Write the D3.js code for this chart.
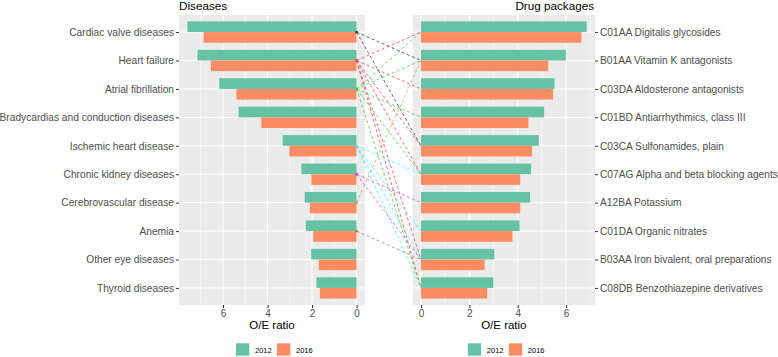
<!DOCTYPE html>
<html><head><meta charset="utf-8">
<script src="https://cdn.jsdelivr.net/npm/d3@7"></script>
<style>body{margin:0;background:#fff}svg{display:block;font-family:"Liberation Sans",Arial,sans-serif}</style>
</head><body><svg id="c" width="778" height="357"></svg>
<script>
const diseases = ["Cardiac valve diseases","Heart failure","Atrial fibrillation","Bradycardias and conduction diseases","Ischemic heart disease","Chronic kidney diseases","Cerebrovascular disease","Anemia","Other eye diseases","Thyroid diseases"];
const dis2012 = [7.6,7.15,6.17,5.3,3.32,2.48,2.33,2.28,2.04,1.8];
const dis2016 = [6.87,6.55,5.4,4.28,3.02,2.03,2.1,1.95,1.7,1.65];
const drugs = ["C01AA Digitalis glycosides","B01AA Vitamin K antagonists","C03DA Aldosterone antagonists","C01BD Antiarrhythmics, class III","C03CA Sulfonamides, plain","C07AG Alpha and beta blocking agents","A12BA Potassium","C01DA Organic nitrates","B03AA Iron bivalent, oral preparations","C08DB Benzothiazepine derivatives"];
const drug2012 = [6.85,5.99,5.52,5.09,4.87,4.55,4.51,4.07,3.03,2.99];
const drug2016 = [6.63,5.26,5.46,4.44,4.59,4.10,4.10,3.78,2.63,2.74];
const years = ["2012","2016"];
const yearColors = ["#66C2A5","#FC8D62"];
const xTicks = [0,2,4,6];
const linkFrom = ["Cardiac valve diseases","Cardiac valve diseases",
  "Heart failure","Heart failure","Heart failure","Heart failure","Heart failure","Heart failure",
  "Atrial fibrillation","Atrial fibrillation","Atrial fibrillation","Atrial fibrillation","Atrial fibrillation",
  "Ischemic heart disease","Ischemic heart disease","Ischemic heart disease","Ischemic heart disease",
  "Chronic kidney diseases","Chronic kidney diseases","Cerebrovascular disease","Anemia"];
const linkTo = ["B01AA Vitamin K antagonists","C03CA Sulfonamides, plain",
  "C01AA Digitalis glycosides","C03DA Aldosterone antagonists","C03CA Sulfonamides, plain","C07AG Alpha and beta blocking agents","B03AA Iron bivalent, oral preparations","C08DB Benzothiazepine derivatives",
  "C01AA Digitalis glycosides","B01AA Vitamin K antagonists","C01BD Antiarrhythmics, class III","C07AG Alpha and beta blocking agents","C08DB Benzothiazepine derivatives",
  "C07AG Alpha and beta blocking agents","C01DA Organic nitrates","B03AA Iron bivalent, oral preparations","C08DB Benzothiazepine derivatives",
  "A12BA Potassium","B03AA Iron bivalent, oral preparations","B01AA Vitamin K antagonists","B03AA Iron bivalent, oral preparations"];
const linkDiseases = ["Cardiac valve diseases","Heart failure","Atrial fibrillation","Ischemic heart disease","Chronic kidney diseases","Cerebrovascular disease","Anemia"];
const linkColors = ["#3a3a3a","#f0404a","#3ccf3c","#3ff0f0","#e040e8","#b8a84a","#b86a6a"];

const svg = d3.select("#c");
const pTop = 15, pBot = 305;
const L = {x0:179, x1:365}, R = {x0:412.7, x1:595};
const y = d3.scalePoint().domain(diseases).range([pTop,pBot]).padding(0.6);
const yR = d3.scalePoint().domain(drugs).range([pTop,pBot]).padding(0.6);
const step = y.step();
const barH = step*0.375;
const lMax = d3.max(dis2012.concat(dis2016)), rMax = d3.max(drug2012.concat(drug2016));
const xL = d3.scaleLinear().domain([-0.05*lMax, 1.05*lMax]).range([L.x1, L.x0]);
const xR = d3.scaleLinear().domain([-0.05*rMax, 1.05*rMax]).range([R.x0, R.x1]);
const txt = "#4d4d4d";

function panel(P, x, yS, cats, v1, v2, side){
  const g = svg.append("g");
  g.append("rect").attr("x",P.x0).attr("y",pTop).attr("width",P.x1-P.x0).attr("height",pBot-pTop).attr("fill","#EBEBEB");
  const minor = [1,3,5,7].filter(t=>x(t)>=Math.min(P.x0,P.x1)&&x(t)<=Math.max(P.x0,P.x1));
  g.selectAll(".mn").data(minor).join("line").attr("x1",d=>x(d)).attr("x2",d=>x(d)).attr("y1",pTop).attr("y2",pBot).attr("stroke","#fff").attr("stroke-width",0.5);
  g.selectAll(".mj").data(xTicks).join("line").attr("x1",d=>x(d)).attr("x2",d=>x(d)).attr("y1",pTop).attr("y2",pBot).attr("stroke","#fff").attr("stroke-width",1);
  g.selectAll(".hg").data(cats).join("line").attr("x1",P.x0).attr("x2",P.x1).attr("y1",d=>yS(d)).attr("y2",d=>yS(d)).attr("stroke","#fff").attr("stroke-width",1);
  [v1,v2].forEach((vals,k)=>{
    g.selectAll(".b"+k).data(cats).join("rect")
      .attr("x",(d,i)=>Math.min(x(0),x(vals[i])))
      .attr("width",(d,i)=>Math.abs(x(vals[i])-x(0)))
      .attr("y",d=>yS(d)-barH+k*barH).attr("height",barH)
      .attr("fill",yearColors[k]);
  });
  const ax = side==="left" ? d3.axisLeft(yS) : d3.axisRight(yS);
  const ga = g.append("g").attr("transform",`translate(${side==="left"?P.x0:P.x1},0)`).call(ax.tickSize(3).tickPadding(2));
  ga.select(".domain").remove();
  ga.selectAll("line").attr("stroke","#333");
  ga.selectAll("text").attr("fill",txt).style("font-size","10.2px");
  const gx = g.append("g").attr("transform",`translate(0,${pBot})`).call(d3.axisBottom(x).tickValues(xTicks).tickSize(3).tickPadding(1.5));
  gx.select(".domain").remove();
  gx.selectAll("line").attr("stroke","#333");
  gx.selectAll("text").attr("fill",txt).style("font-size","10px");
  g.append("text").attr("x",(P.x0+P.x1)/2).attr("y",329.3).attr("text-anchor","middle").style("font-size","11.5px").attr("fill","#000").text("O/E ratio");
  const lx = (P.x0+P.x1)/2 - 36;
  years.forEach((yr,k)=>{
    const ox = lx + k*41;
    g.append("rect").attr("x",ox).attr("y",343.3).attr("width",13.3).attr("height",12.4).attr("fill",yearColors[k]);
    g.append("text").attr("x",ox+19).attr("y",353).style("font-size","7.5px").attr("fill","#000").text(yr);
  });
}
panel(L, xL, y, diseases, dis2012, dis2016, "left");
panel(R, xR, yR, drugs, drug2012, drug2016, "right");

svg.append("text").attr("x",L.x0).attr("y",9.5).style("font-size","11.7px").attr("fill","#000").text("Diseases");
svg.append("text").attr("x",594).attr("y",9.5).attr("text-anchor","end").style("font-size","11.7px").attr("fill","#000").text("Drug packages");

const col = d => linkColors[linkDiseases.indexOf(d)];
const links = linkFrom.map((f,i)=>({f, t:linkTo[i]}));
svg.append("g").selectAll("line").data(links).join("line")
  .attr("x1",xL(0)).attr("y1",d=>y(d.f)).attr("x2",xR(0)).attr("y2",d=>yR(d.t))
  .attr("stroke",d=>col(d.f)).attr("stroke-width",0.9).attr("stroke-dasharray","3,2.5").attr("opacity",0.85);
svg.append("g").selectAll("circle").data(linkDiseases).join("circle")
  .attr("cx",xL(0)).attr("cy",d=>y(d)).attr("r",1.4).attr("fill",d=>col(d));
</script></body></html>
